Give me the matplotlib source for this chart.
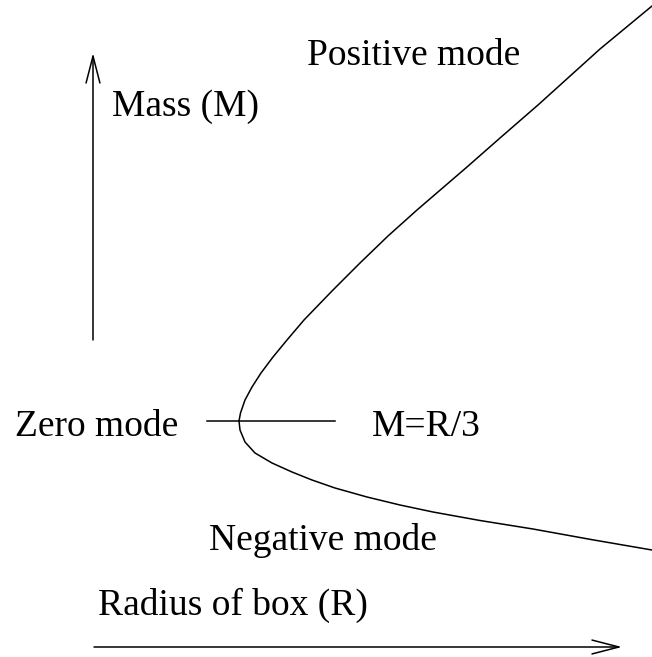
import matplotlib
matplotlib.use("Agg")
import matplotlib.pyplot as plt
from matplotlib.patches import FancyArrowPatch

# curve (x to the right, y downwards, pixel-like units)
radius_r = [652, 600, 538, 500, 467, 417, 388, 360, 332, 304, 287, 273, 261,
            252, 245, 240.5, 239,
            240, 245, 255, 272, 292, 312, 335, 367, 400, 433, 480, 533, 591, 652]
mass_m = [6, 49, 105, 138, 167, 210, 236, 263, 291, 320, 340, 357, 373,
          387, 400, 413, 421,
          430, 442, 453, 463, 472, 480, 488, 497, 505, 512, 520.5, 529, 539.5, 550]

labels = ["Positive mode", "Mass (M)", "Zero mode", "M=R/3", "Negative mode", "Radius of box (R)"]
label_x = [414, 185, 97, 426, 323, 233]
label_y = [65, 116, 436, 436, 550, 615]

plt.rcParams['font.family'] = ['Liberation Serif', 'DejaVu Serif']

fig = plt.figure(figsize=(6.52, 6.57), dpi=100)
ax = fig.add_axes([0, 0, 1, 1])
ax.set_xlim(0, 652)
ax.set_ylim(657, 0)
ax.axis("off")

ax.plot(radius_r, mass_m, color="black", lw=1.1)
ax.plot([207, 335], [421, 421], color="black", lw=1.1)

for x0, y0, x1, y1 in [(93, 340, 93, 53), (94, 647, 622, 647)]:
    arr = FancyArrowPatch((x0, y0), (x1, y1),
                          arrowstyle="->,head_length=0.97,head_width=0.25",
                          mutation_scale=20, color="black", lw=1.1,
                          shrinkA=0, shrinkB=0)
    ax.add_patch(arr)

for t, x, y in zip(labels, label_x, label_y):
    ax.text(x, y, t, fontsize=27, ha="center", va="baseline")

fig.savefig("out.png", dpi=100)
